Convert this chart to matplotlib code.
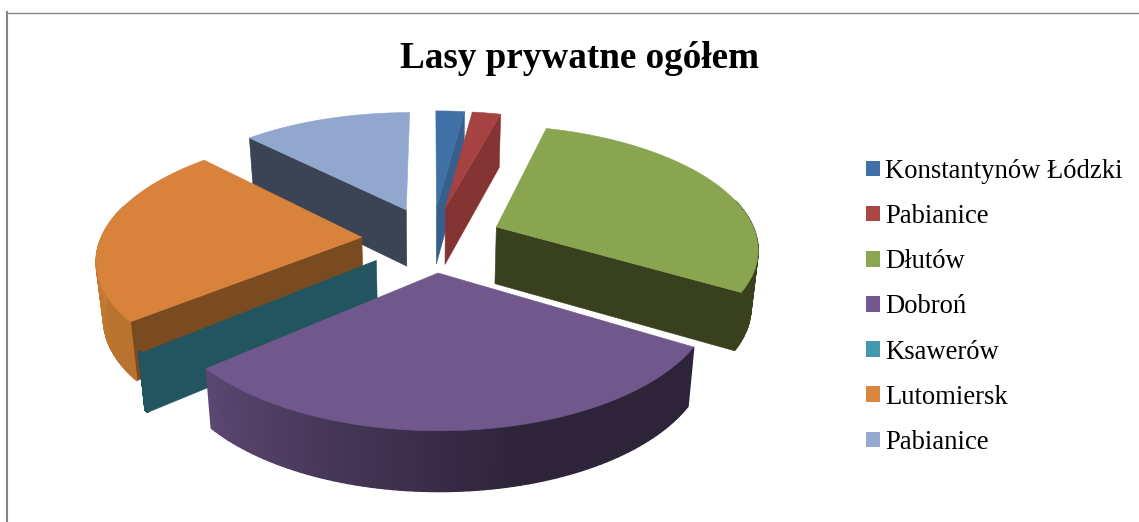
import numpy as np
import matplotlib
matplotlib.use('Agg')
import matplotlib.pyplot as plt
from matplotlib.patches import Patch, Polygon

# Data (percent of total)
labels = ['Konstantynów Łódzki', 'Pabianice', 'Dłutów', 'Dobroń', 'Ksawerów', 'Lutomiersk', 'Pabianice']
values = [2.1, 2.1, 29.4, 30.2, 0.3, 23.5, 12.4]
top_colors = ['#4070A6', '#A74242', '#8AA550', '#70588C', '#3D96AE', '#D8823C', '#92A7CE']
wall_colors = ['#365F8C', '#853434', '#38401E', '#2D243A', '#235560', '#7A4B20', '#3A4455']
legend_colors = ['#4170A8', '#AA4644', '#8AA650', '#71588F', '#4198AF', '#DB843D', '#93A9CF']

# Fake 3D projection of the pie plane
CX, CY = 432, 239
RX, RY = 261, 121
PERSP = 0.157
EXPLODE = 0.27
DEPTH = 57


def project(gx, gy):
    w = 1 + PERSP * gy
    return CX + RX * gx / w, CY - RY * gy / w


def drop(x, y, gy):
    # same point on the underside of the pie
    return CX + (x - CX) * 0.978, y + DEPTH - 3 * gy


def shade(c1, c2, t):
    c1 = np.array(matplotlib.colors.to_rgb(c1))
    c2 = np.array(matplotlib.colors.to_rgb(c2))
    return c1 + (c2 - c1) * t


edges = np.deg2rad(np.concatenate([[0], np.cumsum(values) / np.sum(values) * 360]))

fig = plt.figure(figsize=(11.39, 5.22), dpi=100)
ax = fig.add_axes([0, 0, 1, 1])
ax.set_xlim(0, 1139)
ax.set_ylim(522, 0)
ax.axis('off')

# chart frame, cut off by the picture on the right and bottom
ax.plot([7, 7], [12, 522], color='#868686', lw=1.5)
ax.plot([7, 1139], [12.5, 12.5], color='#868686', lw=1)


def slice_geom(i):
    a0, a1 = edges[i], edges[i + 1]
    mid = (a0 + a1) / 2
    ex, ey = EXPLODE * np.sin(mid), EXPLODE * np.cos(mid)
    ang = np.linspace(a0, a1, 80)
    gx, gy = ex + np.sin(ang), ey + np.cos(ang)
    return a0, a1, ex, ey, ang, gx, gy


def draw_top(i, z):
    a0, a1, ex, ey, ang, gx, gy = slice_geom(i)
    ax_, ay_ = project(ex, ey)
    x, y = project(gx, gy)
    pts = np.column_stack([np.r_[ax_, x], np.r_[ay_, y]])
    ax.add_patch(Polygon(pts, closed=True, fc=top_colors[i], ec=top_colors[i], lw=0.4, zorder=z))


def draw_radial(i, z):
    a0, a1, ex, ey, ang, gx, gy = slice_geom(i)
    ax_, ay_ = project(ex, ey)
    bx_, by_ = drop(ax_, ay_, ey)
    for k, a in [(0, a0), (-1, a1)]:
        visible = np.sin(a) < 0 if k == 0 else np.sin(a) > 0
        if not visible:
            continue
        x, y = project(gx[k], gy[k])
        bx, by = drop(x, y, gy[k])
        pts = [(ax_, ay_), (x, y), (bx, by), (bx_, by_)]
        ax.add_patch(Polygon(pts, closed=True, fc=wall_colors[i], ec=wall_colors[i], lw=0.4, zorder=z))


def outer_color(i, a):
    deg = np.rad2deg(a)
    if labels[i] == 'Dobroń':
        return shade('#2D243A', '#5E4975', np.clip((deg - 165) / 67, 0, 1))
    if labels[i] == 'Lutomiersk':
        return shade('#B8732F', '#CC7E38', np.clip((deg - 240) / 40, 0, 1))
    return matplotlib.colors.to_rgb(wall_colors[i])


def draw_outer(i, z):
    a0, a1, ex, ey, ang, gx, gy = slice_geom(i)
    x, y = project(gx, gy)
    bx, by = drop(x, y, gy)
    for j in range(len(ang) - 1):
        if np.cos(ang[j]) > 0.25:
            continue
        c = outer_color(i, ang[j])
        pts = [(x[j], y[j]), (x[j + 1], y[j + 1]), (bx[j + 1], by[j + 1]), (bx[j], by[j])]
        ax.add_patch(Polygon(pts, closed=True, fc=c, ec=c, lw=1.0, zorder=z))


# painter's order, back to front (Ksawerów's top stays behind Lutomiersk's wall as in the original)
z = 2
for i in [6, 0, 1, 2]:
    draw_radial(i, z)
    draw_outer(i, z + 1)
    draw_top(i, z + 2)
    z += 3
draw_top(4, z)
z += 1
draw_radial(5, z)
draw_outer(5, z + 1)
draw_top(5, z + 2)
z += 3
draw_radial(4, z)
draw_outer(4, z + 1)
z += 2
draw_outer(3, z)
draw_top(3, z + 1)

ax.text(579, 58, 'Lasy prywatne ogółem', family='Liberation Serif', fontweight='bold',
        fontsize=26.7, ha='center', va='center', color='black')

handles = [Patch(fc=c, ec='none') for c in legend_colors]
ax.legend(handles, labels, loc='upper left', bbox_to_anchor=(866 / 1139, 1 - 159 / 522),
          frameon=False, prop={'family': 'Liberation Serif', 'size': 19.2},
          handlelength=0.52, handleheight=0.52, handletextpad=0.2,
          labelspacing=0.755, borderpad=0, borderaxespad=0)

plt.savefig('out.png', dpi=100)
